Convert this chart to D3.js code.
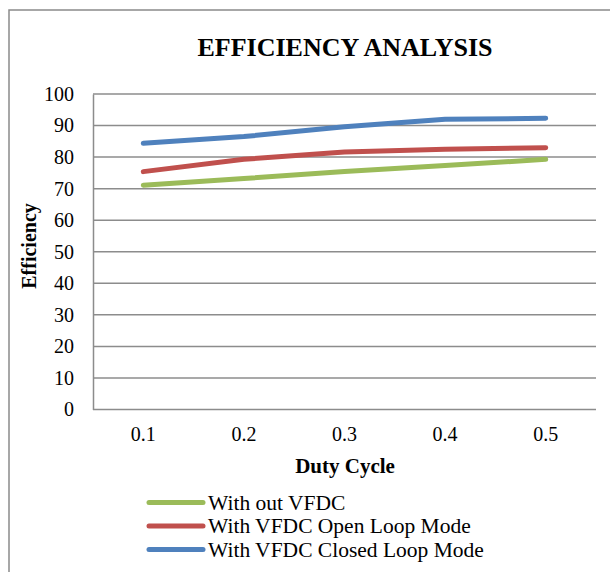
<!DOCTYPE html>
<html>
<head>
<meta charset="utf-8">
<script src="https://cdn.jsdelivr.net/npm/d3@7"></script>
<style>
  html, body { margin: 0; padding: 0; background: #fff; }
  svg { display: block; font-family: "Liberation Serif", "Times New Roman", serif; }
</style>
</head>
<body>
<svg id="chart" width="610" height="572"></svg>
<script>
// Duty cycle categories and efficiency (%) for each configuration
const dutyCycles = ["0.1", "0.2", "0.3", "0.4", "0.5"];
const withoutVFDC = [71.1, 73.2, 75.4, 77.3, 79.3];
const vfdcOpenLoop = [75.4, 79.3, 81.6, 82.5, 83.0];
const vfdcClosedLoop = [84.4, 86.5, 89.6, 92.0, 92.3];
const yTicks = [0, 10, 20, 30, 40, 50, 60, 70, 80, 90, 100];

const seriesNames = ["With out VFDC", "With VFDC Open Loop Mode", "With VFDC Closed Loop Mode"];
const seriesColors = ["#9BBB59", "#C0504D", "#4F81BD"];
const series = [withoutVFDC, vfdcOpenLoop, vfdcClosedLoop].map((vals, i) => ({
  name: seriesNames[i], color: seriesColors[i], values: vals
}));

const svg = d3.select("#chart");
const plot = { left: 93, right: 596, top: 94, bottom: 409.5 };

// Outer chart border
svg.append("rect")
  .attr("x", 9).attr("y", 10)
  .attr("width", 620).attr("height", 600)
  .attr("fill", "none").attr("stroke", "#8a8a8a").attr("stroke-width", 1.5);

const x = d3.scaleBand().domain(dutyCycles).range([plot.left, plot.right]);
const y = d3.scaleLinear().domain([0, 100]).range([plot.bottom, plot.top]);

// Horizontal gridlines
svg.append("g").selectAll("line").data(yTicks).join("line")
  .attr("x1", plot.left).attr("x2", plot.right)
  .attr("y1", d => y(d)).attr("y2", d => y(d))
  .attr("stroke", "#8c8c8c").attr("stroke-width", 1.5);

// Y axis
const yAxis = svg.append("g")
  .attr("transform", `translate(${plot.left},0)`)
  .call(d3.axisLeft(y).tickValues(yTicks).tickSize(0).tickPadding(19));
yAxis.select(".domain").attr("stroke", "#8c8c8c").attr("stroke-width", 1.5);
yAxis.selectAll("text")
  .attr("font-family", "Liberation Serif, serif")
  .attr("font-size", 20).attr("fill", "#000");

// X axis (labels only, baseline on the 0 gridline)
const xAxis = svg.append("g")
  .attr("transform", `translate(0,${plot.bottom})`)
  .call(d3.axisBottom(x).tickSize(0).tickPadding(17));
xAxis.select(".domain").remove();
xAxis.selectAll("text")
  .attr("font-family", "Liberation Serif, serif")
  .attr("font-size", 20).attr("fill", "#000");

// Series lines
const line = d3.line()
  .x((d, i) => x(dutyCycles[i]) + x.bandwidth() / 2)
  .y(d => y(d));

svg.append("g").selectAll("path").data(series).join("path")
  .attr("d", d => line(d.values))
  .attr("fill", "none")
  .attr("stroke", d => d.color)
  .attr("stroke-width", 5)
  .attr("stroke-linecap", "round")
  .attr("stroke-linejoin", "round");

// Title
svg.append("text")
  .attr("x", 345).attr("y", 56)
  .attr("text-anchor", "middle")
  .attr("font-size", 26).attr("font-weight", "bold")
  .text("EFFICIENCY ANALYSIS");

// Axis titles
svg.append("text")
  .attr("x", 345).attr("y", 473)
  .attr("text-anchor", "middle")
  .attr("font-size", 21).attr("font-weight", "bold")
  .text("Duty Cycle");

svg.append("text")
  .attr("transform", "translate(36,246) rotate(-90)")
  .attr("text-anchor", "middle")
  .attr("font-size", 20).attr("font-weight", "bold")
  .text("Efficiency");

// Legend
const legend = svg.append("g").selectAll("g").data(series).join("g")
  .attr("transform", (d, i) => `translate(149,${502.5 + i * 23.5})`);
legend.append("line")
  .attr("x1", 0).attr("x2", 54).attr("y1", 0).attr("y2", 0)
  .attr("stroke", d => d.color).attr("stroke-width", 5)
  .attr("stroke-linecap", "round");
legend.append("text")
  .attr("x", 59).attr("y", 7)
  .attr("font-size", 21.5)
  .text(d => d.name);
</script>
</body>
</html>
